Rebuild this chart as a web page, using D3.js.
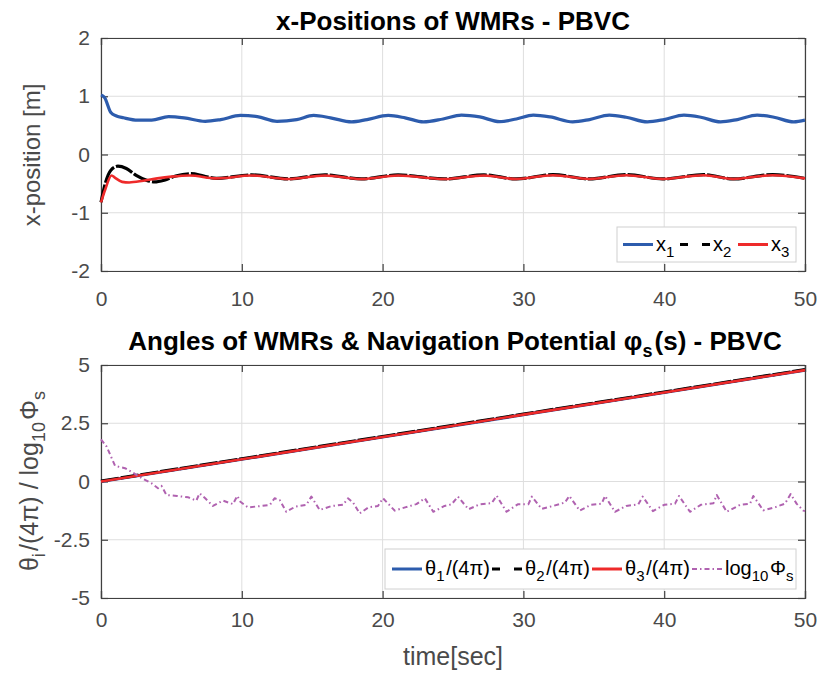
<!DOCTYPE html>
<html><head><meta charset="utf-8">
<script src="https://cdn.jsdelivr.net/npm/d3@7"></script>
<style>body{margin:0;background:#fff}svg{display:block}text{font-family:"Liberation Sans",Arial,sans-serif}</style>
</head><body><svg id="c" width="821" height="675"></svg>
<script>
const xTicks=[0,10,20,30,40,50];
const yTicksTop=[-2,-1,0,1,2];
const yTicksBot=[-5,-2.5,0,2.5,5];
const yTickLabelsBot=["-5","-2.5","0","2.5","5"];
// top panel: x-positions [t, x]
const x1=[[0,1.02],[0.25,0.98],[0.7,0.72],[1.1,0.66],[1.6,0.63],[2.6,0.59],[3.6,0.59],[4.8,0.65],[5.9,0.63],[7.4,0.57],[8.5,0.60],[9.9,0.67],[11.1,0.65],[12.5,0.57],[13.9,0.60],[15.1,0.67],[16.3,0.63],[17.8,0.56],[18.9,0.60],[20.4,0.67],[21.6,0.63],[22.9,0.56],[24.3,0.61],[25.6,0.675],[26.9,0.645],[28.3,0.565],[29.5,0.61],[30.7,0.675],[31.9,0.645],[33.5,0.56],[34.7,0.60],[36.1,0.675],[37.3,0.64],[38.8,0.56],[40.0,0.60],[41.4,0.675],[42.6,0.64],[44.0,0.56],[45.2,0.60],[46.6,0.675],[47.8,0.64],[49.2,0.56],[50,0.59]];
const x2=[[0,-0.82],[0.3,-0.5],[0.7,-0.27],[1.2,-0.20],[1.8,-0.24],[2.5,-0.36],[3.2,-0.44],[3.8,-0.47],[4.5,-0.44],[5.3,-0.37],[6.4,-0.33],[7.3,-0.37],[8.2,-0.41],[10.7,-0.35],[13.3,-0.42],[15.9,-0.35],[18.5,-0.42],[21.1,-0.35],[24.4,-0.42],[27.2,-0.35],[29.5,-0.42],[32.1,-0.345],[34.7,-0.42],[37.3,-0.345],[39.9,-0.42],[42.8,-0.345],[44.9,-0.42],[47.7,-0.345],[50,-0.41]];
const x3=[[0,-0.82],[0.3,-0.6],[0.75,-0.36],[1.0,-0.40],[1.5,-0.47],[2.0,-0.48],[3.0,-0.45],[4.0,-0.41],[5.0,-0.38],[6.3,-0.36],[8.2,-0.41],[10.7,-0.36],[13.3,-0.42],[15.9,-0.36],[18.5,-0.42],[21.1,-0.36],[24.4,-0.42],[27.2,-0.36],[29.5,-0.42],[32.1,-0.355],[34.7,-0.42],[37.3,-0.355],[39.9,-0.42],[42.8,-0.355],[44.9,-0.42],[47.7,-0.355],[50,-0.41]];
// bottom panel: theta_i/(4pi) and log10 phi_s
const th1=[[0,0],[10,0.955],[20,1.91],[30,2.87],[40,3.82],[50,4.78]];
const th2=[[0,0.02],[10,0.975],[20,1.93],[30,2.89],[40,3.84],[50,4.80]];
const th3=[[0,0],[10,0.955],[20,1.91],[30,2.87],[40,3.82],[50,4.78]];
const phi=[[0,1.81],[0.4,1.5],[1.0,0.67],[1.7,0.57],[2.15,0.42],[2.9,0.14],[3.6,-0.08],[4.05,-0.29],[4.3,-0.19],[4.65,-0.58],[5.4,-0.62],[6.2,-0.68],[6.77,-0.82],[7.0,-0.51],[7.4,-0.72],[7.95,-1.05],[8.66,-0.82],[9.37,-0.97],[9.68,-0.62],[9.9,-0.87],[10.44,-1.11],[11.4,-1.05],[12.0,-1.0],[12.33,-0.72],[12.7,-0.8],[13.16,-1.3],[13.8,-1.08],[14.58,-1.0],[14.94,-0.65],[15.53,-1.22],[16.4,-1.05],[17.19,-1.0],[17.54,-0.72],[17.9,-0.9],[18.37,-1.37],[19.0,-1.11],[19.67,-1.05],[20.03,-0.72],[20.86,-1.25],[21.6,-1.11],[22.4,-0.97],[23.0,-0.72],[23.6,-1.3],[24.4,-1.05],[24.9,-0.98],[25.35,-0.65],[26.1,-1.19],[26.9,-0.98],[27.75,-0.93],[28.1,-0.61],[28.8,-1.3],[29.6,-0.98],[30.35,-0.98],[30.6,-0.65],[31.3,-1.17],[32.1,-1.05],[32.95,-0.9],[33.26,-0.62],[34.0,-1.25],[34.8,-1.0],[35.56,-0.95],[35.8,-0.62],[36.5,-1.3],[37.3,-1.05],[38.16,-0.98],[38.47,-0.65],[39.2,-1.27],[40.0,-1.0],[40.77,-0.95],[41.05,-0.62],[41.83,-1.3],[42.6,-1.0],[43.5,-0.93],[43.73,-0.58],[44.44,-1.3],[45.4,-1.0],[46.1,-0.95],[46.33,-0.62],[47.04,-1.24],[47.9,-1.1],[48.58,-0.95],[48.98,-0.54],[49.4,-0.95],[49.88,-1.25],[50,-1.27]];

const BLUE="#2d5cad",RED="#ee2a2a",BLACK="#000",PURPLE="#b062b0",AX="#404040",TXT="#4a4a4a",GRID="#dedede";
const svg=d3.select("#c");
const L=101,R=805;
const x=d3.scaleLinear().domain([0,50]).range([L,R]);

function panel(top,bot,yDomain,yTicks,yLabels,xPad){
  const y=d3.scaleLinear().domain(yDomain).range([bot,top]);
  const g=svg.append("g");
  g.append("rect").attr("x",L).attr("y",top).attr("width",R-L).attr("height",bot-top).attr("fill","#fff");
  g.selectAll(".gx").data(xTicks).join("line").attr("x1",d=>x(d)).attr("x2",d=>x(d)).attr("y1",top).attr("y2",bot).attr("stroke",GRID).attr("stroke-width",1);
  g.selectAll(".gy").data(yTicks).join("line").attr("y1",d=>y(d)).attr("y2",d=>y(d)).attr("x1",L).attr("x2",R).attr("stroke",GRID).attr("stroke-width",1);
  const ab=g.append("g").attr("transform",`translate(0,${bot})`).call(d3.axisBottom(x).tickValues(xTicks).tickSize(-7).tickPadding(xPad).tickFormat(d3.format("d")));
  const at=g.append("g").attr("transform",`translate(0,${top})`).call(d3.axisTop(x).tickValues(xTicks).tickSize(-7).tickFormat(""));
  const al=g.append("g").attr("transform",`translate(${L},0)`).call(d3.axisLeft(y).tickValues(yTicks).tickSize(-7).tickPadding(11).tickFormat((d,i)=>yLabels[i]));
  const ar=g.append("g").attr("transform",`translate(${R},0)`).call(d3.axisRight(y).tickValues(yTicks).tickSize(-7).tickFormat(""));
  [ab,at,al,ar].forEach(a=>{a.select(".domain").attr("stroke",AX).attr("stroke-width",1.2);a.selectAll(".tick line").attr("stroke",AX).attr("stroke-width",1.2);a.selectAll("text").attr("fill",TXT).style("font-size","21px");});
  return {y,g};
}
function drawLine(p,data,color,w,dash,curve){
  p.g.append("path").datum(data).attr("fill","none").attr("stroke",color).attr("stroke-width",w)
   .attr("stroke-dasharray",dash||null).attr("stroke-linejoin","round")
   .attr("d",d3.line().x(d=>x(d[0])).y(d=>p.y(d[1])).curve(curve||d3.curveMonotoneX));
}
const P1=panel(38,271,[-2,2],yTicksTop,yTicksTop.map(String),20);
drawLine(P1,x1,BLUE,3.2);
drawLine(P1,x2,BLACK,3.2,"18,2");
drawLine(P1,x3,RED,2.6);
const P2=panel(365,598,[-5,5],yTicksBot,yTickLabelsBot,14);
drawLine(P2,th1,BLUE,3.2,null,d3.curveLinear);
drawLine(P2,th2,BLACK,3.2,"18,2",d3.curveLinear);
drawLine(P2,th3,RED,2.6,null,d3.curveLinear);
drawLine(P2,phi,PURPLE,2,"5,3,1.5,3",d3.curveLinear);

function rich(sel,parts,subSize,shift){
  parts.forEach(([t,sub])=>{
    if(sub){sel.append("tspan").attr("font-size",subSize).attr("dy",shift).text(t);sel.append("tspan").attr("dy",-shift).text("\u200a");}
    else sel.append("tspan").text(t);
  });
}
// titles
svg.append("text").attr("x",453).attr("y",30).attr("text-anchor","middle").attr("font-weight","bold").style("font-size","26px").attr("fill","#000").text("x-Positions of WMRs - PBVC");
const t2=svg.append("text").attr("x",455).attr("y",350).attr("text-anchor","middle").attr("font-weight","bold").style("font-size","26px").attr("fill","#000");
rich(t2,[["Angles of WMRs & Navigation Potential φ"],["s",1],["(s) - PBVC"]],"18px",7);
// axis labels
svg.append("text").attr("transform","translate(40,155) rotate(-90)").attr("text-anchor","middle").style("font-size","24px").attr("fill",TXT).text("x-position [m]");
const yl=svg.append("text").attr("transform","translate(38,480) rotate(-90)").attr("text-anchor","middle").style("font-size","25px").attr("fill",TXT);
rich(yl,[["θ"],["i",1],["/(4π) / log"],["10",1],["Φ"],["s",1]],"18px",7);
svg.append("text").attr("x",453).attr("y",665).attr("text-anchor","middle").style("font-size","25px").attr("fill",TXT).text("time[sec]");

function legend(bx,by,bw,bh,items){
  const g=svg.append("g");
  g.append("rect").attr("x",bx).attr("y",by).attr("width",bw).attr("height",bh).attr("fill","#fff").attr("stroke","#d0d0d0").attr("stroke-width",1);
  const cy=by+bh/2;
  items.forEach(it=>{
    g.append("line").attr("x1",it.lx).attr("x2",it.lx+30).attr("y1",cy).attr("y2",cy).attr("stroke",it.color).attr("stroke-width",it.w).attr("stroke-dasharray",it.dash||null);
    const t=g.append("text").attr("x",it.lx+33).attr("y",cy+6).style("font-size","20px").attr("fill","#000");
    rich(t,it.parts,"15px",6);
  });
}
legend(617,227,179,35,[
  {lx:623,color:BLUE,w:3,parts:[["x"],["1",1]]},
  {lx:680,color:BLACK,w:3,dash:"8,14",parts:[["x"],["2",1]]},
  {lx:738,color:RED,w:3,parts:[["x"],["3",1]]}
]);
legend(385,549,411,40,[
  {lx:392,color:BLUE,w:3,parts:[["θ"],["1",1],["/(4π)"]]},
  {lx:492,color:BLACK,w:3,dash:"8,14",parts:[["θ"],["2",1],["/(4π)"]]},
  {lx:592,color:RED,w:3,parts:[["θ"],["3",1],["/(4π)"]]},
  {lx:692,color:PURPLE,w:2,dash:"5,3,1.5,3",parts:[["log"],["10",1],["Φ"],["s",1]]}
]);
</script></body></html>
